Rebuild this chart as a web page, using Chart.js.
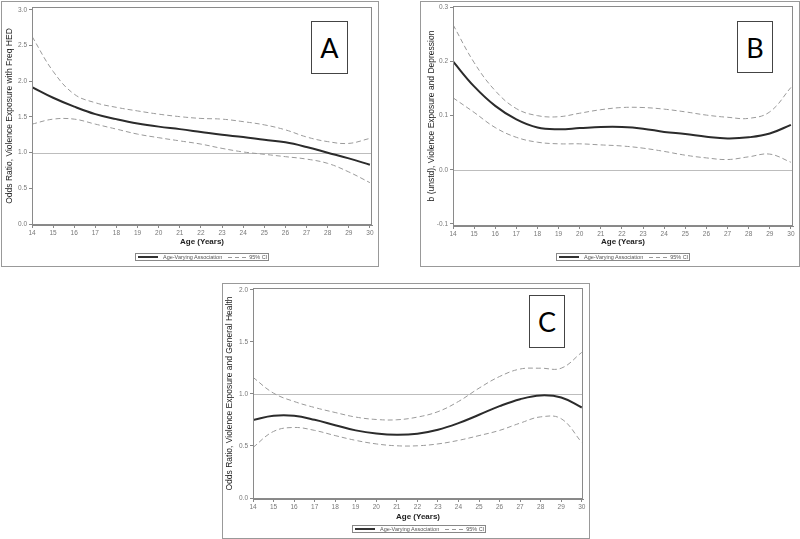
<!DOCTYPE html>
<html><head><meta charset="utf-8">
<script src="https://cdn.jsdelivr.net/npm/chart.js@4.4.0/dist/chart.umd.min.js"></script>
<style>
body{margin:0;background:#fff;width:800px;height:539px;position:relative;overflow:hidden;font-family:'Liberation Sans',Arial,sans-serif;}
.frame{position:absolute;border:1px solid #999;box-sizing:border-box;}
canvas{position:absolute;}
.letter{position:absolute;border:1.5px solid #444;box-sizing:border-box;font-family:Lato,'Open Sans',sans-serif;font-size:27px;display:flex;align-items:center;justify-content:center;color:#000;background:#fff;}
.legend{position:absolute;border:1px solid #888;box-sizing:border-box;height:8px;width:134px;display:flex;align-items:center;font-size:5.5px;line-height:6px;color:#555;white-space:nowrap;}
.ls{display:inline-block;width:20px;margin-left:2px;margin-right:5px;}
.solid{height:1.5px;background:#333;}
.dashed{width:19px;height:1px;background:repeating-linear-gradient(90deg,#999 0 4px,transparent 4px 7px);margin-left:6px;margin-right:2px;}
</style></head>
<body>
<div class="frame" style="left:1px;top:1px;width:378px;height:266px;"></div>
<div class="frame" style="left:420px;top:1px;width:380px;height:266px;"></div>
<div class="frame" style="left:222px;top:283px;width:368px;height:256px;"></div>
<canvas id="cA" width="377" height="265" style="left:1px;top:1px;"></canvas>
<canvas id="cB" width="379" height="265" style="left:420px;top:1px;"></canvas>
<canvas id="cC" width="367" height="255" style="left:222px;top:283px;"></canvas>
<div class="letter" style="left:311px;top:21px;width:37px;height:53px;">A</div>
<div class="letter" style="left:737px;top:21px;width:36px;height:52px;">B</div>
<div class="letter" style="left:529px;top:295px;width:36px;height:53px;">C</div>
<div class="legend" style="left:135px;top:253px;"><span class="ls solid"></span><span>Age-Varying Association</span><span class="ls dashed"></span><span>95% CI</span></div>
<div class="legend" style="left:556px;top:253px;"><span class="ls solid"></span><span>Age-Varying Association</span><span class="ls dashed"></span><span>95% CI</span></div>
<div class="legend" style="left:352px;top:525px;"><span class="ls solid"></span><span>Age-Varying Association</span><span class="ls dashed"></span><span>95% CI</span></div>
<script>
const ages = [14,15,16,17,18,19,20,21,22,23,24,25,26,27,28,29,30];
const xTicks = [14,15,16,17,18,19,20,21,22,23,24,25,26,27,28,29,30];

const aEst   = [1.92,1.77,1.645,1.54,1.47,1.41,1.365,1.33,1.29,1.25,1.22,1.18,1.145,1.08,1.00,0.92,0.83];
const aUpper = [2.63,2.14,1.82,1.70,1.635,1.585,1.54,1.505,1.48,1.47,1.435,1.39,1.32,1.22,1.155,1.13,1.20];
const aLower = [1.40,1.47,1.47,1.40,1.33,1.26,1.21,1.165,1.12,1.06,1.01,0.977,0.944,0.91,0.85,0.73,0.58];
const aTicks = [0,0.5,1.0,1.5,2.0,2.5,3.0];
const aRef = 1.0;

const bEst   = [0.200,0.154,0.118,0.093,0.078,0.075,0.077,0.079,0.079,0.076,0.070,0.066,0.061,0.058,0.060,0.067,0.083];
const bUpper = [0.268,0.198,0.146,0.113,0.100,0.098,0.1045,0.111,0.115,0.115,0.112,0.107,0.101,0.097,0.095,0.107,0.152];
const bLower = [0.133,0.106,0.078,0.060,0.051,0.048,0.048,0.046,0.044,0.040,0.034,0.027,0.022,0.019,0.024,0.029,0.014];
const bTicks = [-0.1,0.0,0.1,0.2,0.3];
const bRef = 0.0;

const cEst   = [0.75,0.79,0.79,0.752,0.70,0.65,0.62,0.608,0.618,0.656,0.72,0.80,0.883,0.95,0.986,0.966,0.87];
const cUpper = [1.16,1.008,0.928,0.87,0.822,0.778,0.755,0.752,0.778,0.83,0.928,1.056,1.168,1.24,1.248,1.248,1.40];
const cLower = [0.486,0.64,0.678,0.65,0.60,0.554,0.52,0.502,0.502,0.52,0.554,0.60,0.65,0.72,0.78,0.762,0.534];
const cTicks = [0,0.5,1.0,1.5,2.0];
const cRef = 1.0;

const FONT = "'Liberation Sans',Arial,sans-serif";
Chart.defaults.font.family = FONT;

const framePlugin = {
  id:'frame',
  afterDraw(c){
    const {ctx, chartArea:a} = c;
    ctx.save(); ctx.strokeStyle='#8a8a8a'; ctx.lineWidth=1;
    ctx.strokeRect(Math.round(a.left)+0.5, Math.round(a.top)+0.5, Math.round(a.right-a.left)-1, Math.round(a.bottom-a.top)-1);
    ctx.restore();
  }
};
const refPlugin = {
  id:'refLine',
  beforeDatasetsDraw(c, args, opts){
    const {ctx, chartArea:a} = c;
    const y = Math.round(c.scales.y.getPixelForValue(opts.value))+0.5;
    ctx.save(); ctx.strokeStyle='#bdbdbd'; ctx.lineWidth=1;
    ctx.beginPath(); ctx.moveTo(a.left,y); ctx.lineTo(a.right,y); ctx.stroke(); ctx.restore();
  }
};

function pts(vals){ return ages.map((a,i)=>({x:a,y:vals[i]})); }

function makeChart(id, p){
  new Chart(document.getElementById(id), {
    type:'line',
    data:{datasets:[
      {data:pts(p.lower), borderColor:'#9a9a9a', borderWidth:1, borderDash:[5,3]},
      {data:pts(p.upper), borderColor:'#9a9a9a', borderWidth:1, borderDash:[5,3]},
      {data:pts(p.est), borderColor:'#2b2b2b', borderWidth:2}
    ]},
    plugins:[framePlugin, refPlugin],
    options:{
      responsive:false, animation:false, devicePixelRatio:1,
      layout:{padding:p.pad},
      elements:{point:{radius:0}, line:{tension:0.4, fill:false}},
      plugins:{legend:{display:false}, tooltip:{enabled:false}, refLine:{value:p.ref}},
      scales:{
        x:{type:'linear', min:14, max:p.xMax,
          afterBuildTicks:s=>{s.ticks = xTicks.map(v=>({value:v}));},
          afterFit:s=>{s.height=p.xh; s.paddingLeft=0; s.paddingRight=0;},
          grid:{drawOnChartArea:false, tickLength:3, color:'#888'},
          border:{color:'#888'},
          ticks:{font:{size:6.5}, color:'#777', padding:1, maxRotation:0, autoSkip:false, callback:v=>String(v)},
          title:{display:true, text:'Age (Years)', font:{size:8, weight:'bold'}, color:'#222', padding:0}
        },
        y:{type:'linear', min:p.yMin, max:p.yMax,
          afterBuildTicks:s=>{s.ticks = p.ticks.map(v=>({value:v}));},
          afterFit:s=>{s.width=p.yw; s.paddingTop=0; s.paddingBottom=0;},
          grid:{drawOnChartArea:false, tickLength:3, color:'#888'},
          border:{color:'#888'},
          ticks:{font:{size:6.5}, color:'#777', padding:2, autoSkip:false, callback:v=>v.toFixed(1)},
          title:{display:true, text:p.title, font:{size:8.5}, color:'#222', padding:0}
        }
      }
    }
  });
}

makeChart('cA', {est:aEst, upper:aUpper, lower:aLower, ticks:aTicks, ref:aRef,
  yMin:-0.014, yMax:3.042, xMax:30.1, pad:{left:4, top:6, right:6, bottom:19}, yw:27, xh:22,
  title:'Odds Ratio, Violence Exposure with Freq HED'});
makeChart('cB', {est:bEst, upper:bUpper, lower:bLower, ticks:bTicks, ref:bRef,
  yMin:-0.1037, yMax:0.3024, xMax:30.1, pad:{left:7, top:5, right:6, bottom:19}, yw:26, xh:21,
  title:'b (unstd), Violence Exposure and Depression'});
makeChart('cC', {est:cEst, upper:cUpper, lower:cLower, ticks:cTicks, ref:cRef,
  yMin:-0.0096, yMax:2.019, xMax:30.06, pad:{left:3, top:5, right:6, bottom:16}, yw:28, xh:23,
  title:'Odds Ratio, Violence Exposure and General Health'});
</script>
</body></html>
